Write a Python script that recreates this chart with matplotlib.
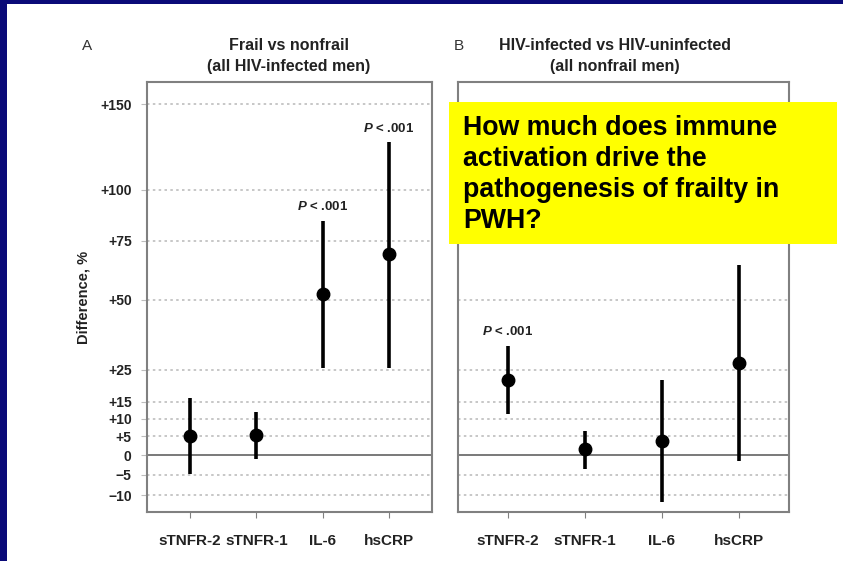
import numpy as np
import matplotlib
matplotlib.use("Agg")
import matplotlib.pyplot as plt
from matplotlib.patches import Rectangle

plt.rcParams['font.family'] = ['Liberation Sans', 'DejaVu Sans']
plt.rcParams['mathtext.fontset'] = 'custom'
plt.rcParams['mathtext.bfit'] = 'Liberation Sans:italic:bold'
plt.rcParams['mathtext.it'] = 'Liberation Sans:italic:bold'

markers = ["sTNFR-2", "sTNFR-1", "IL-6", "hsCRP"]

# percent difference with 95% CI, frail vs nonfrail
frail_est = [5.2, 5.4, 52.3, 69.0]
frail_lo = [-4.8, -1.0, 25.5, 25.5]
frail_hi = [16.0, 12.0, 84.4, 126.4]
frail_sig = [False, False, True, True]

# percent difference with 95% CI, HIV-infected vs HIV-uninfected
hiv_est = [21.7, 1.6, 3.8, 27.2]
hiv_lo = [11.3, -3.6, -11.5, -1.5]
hiv_hi = [33.1, 6.6, 21.7, 64.1]
hiv_sig = [True, False, False, False]

y_ticks = [-10, -5, 0, 5, 10, 15, 25, 50, 75, 100, 150]
y_ticklabels = ["\u221210", "\u22125", "0", "+5", "+10", "+15", "+25", "+50", "+75", "+100", "+150"]

question = "How much does immune\nactivation drive the\npathogenesis of frailty in\nPWH?"

W, H = 843, 561
fig = plt.figure(figsize=(W / 100, H / 100), dpi=100)


def fx(px):
    return px / W


def fy(py):
    return 1 - py / H


def ratio_fwd(v):
    return np.log1p(np.asarray(v, dtype=float) / 100.0)


def ratio_inv(v):
    return 100.0 * np.expm1(np.asarray(v, dtype=float))


def draw_panel(ax, est, lo, hi, sig, show_y):
    ax.set_yscale('function', functions=(ratio_fwd, ratio_inv))
    ax.set_ylim(-13.8, 165)
    xs = np.arange(1, len(markers) + 1)
    ax.set_xlim(0.35, 4.65)
    for t in y_ticks:
        if t == 0:
            ax.axhline(0, color='#555555', lw=1.1, zorder=1)
        else:
            ax.axhline(t, color='#bdbdbd', lw=1.2, ls=(0, (1.5, 2)), zorder=1)
    ax.vlines(xs, lo, hi, color='black', lw=2.6, zorder=3)
    ax.plot(xs, est, 'o', color='black', ms=9, zorder=4)
    for x, h, s in zip(xs, hi, sig):
        if s:
            ax.annotate(r"$\mathit{P}$ < .001", (x, h), xytext=(0, 10),
                        textcoords='offset points', ha='center', va='center',
                        fontsize=9.5, fontweight='bold', color='#222222')
    ax.set_xticks(xs)
    ax.set_xticklabels(markers, fontsize=11, fontweight='bold', color='#222222')
    ax.tick_params(axis='x', length=4, color='#808080', pad=12)
    ax.set_yticks(y_ticks)
    ax.minorticks_off()
    if show_y:
        ax.set_yticklabels(y_ticklabels, fontsize=10, fontweight='bold', color='#222222')
        ax.tick_params(axis='y', length=4, color='#bdbdbd', pad=7)
        ax.set_ylabel("Difference, %", fontsize=10.5, fontweight='bold', color='#222222')
        ax.yaxis.set_label_coords(-0.198, 0.5)
    else:
        ax.set_yticklabels([])
        ax.tick_params(axis='y', length=0)
    for sp in ax.spines.values():
        sp.set_color('#808080')
        sp.set_linewidth(1.5)


ax_a = fig.add_axes([fx(147), fy(512), fx(432 - 147), (512 - 82) / H])
ax_b = fig.add_axes([fx(458), fy(512), fx(789 - 458), (512 - 82) / H])
draw_panel(ax_a, frail_est, frail_lo, frail_hi, frail_sig, True)
draw_panel(ax_b, hiv_est, hiv_lo, hiv_hi, hiv_sig, False)

# panel headings
fig.text(fx(87), fy(46), "A", fontsize=11, ha='center', va='center', color='#333333')
fig.text(fx(459), fy(46), "B", fontsize=11, ha='center', va='center', color='#333333')
head = dict(fontsize=11.5, fontweight='bold', ha='center', va='center', color='#222222')
fig.text(fx(289), fy(45), "Frail vs nonfrail", **head)
fig.text(fx(289), fy(67), "(all HIV-infected men)", **head)
fig.text(fx(615), fy(45), "HIV-infected vs HIV-uninfected", **head)
fig.text(fx(615), fy(67), "(all nonfrail men)", **head)

# question callout
fig.patches.append(Rectangle((fx(449), fy(244)), fx(837 - 449), (244 - 102) / H,
                             transform=fig.transFigure, facecolor='#ffff00',
                             edgecolor='none', zorder=5))
fig.text(fx(463), fy(115), question, fontsize=19.3, fontweight='bold', ha='left',
         va='top', linespacing=1.25, color='black', zorder=6)

# slide frame
fig.patches.append(Rectangle((0, fy(4)), 1, 4 / H, transform=fig.transFigure,
                             facecolor='#0a0a78', edgecolor='none', zorder=7))
fig.patches.append(Rectangle((0, 0), fx(7), 1, transform=fig.transFigure,
                             facecolor='#0a0a78', edgecolor='none', zorder=7))

fig.savefig("out.png", dpi=100)
